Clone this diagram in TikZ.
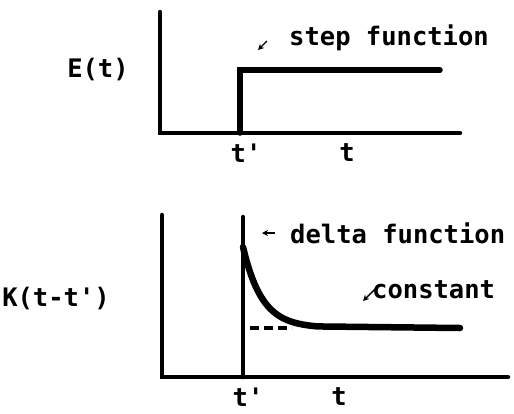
\documentclass[tikz,border=0pt]{standalone}
\usepackage{fontspec}
\setmonofont{DejaVu Sans Mono}
\usetikzlibrary{arrows.meta}
\tikzset{
  axis/.style={line width=4.5pt, line cap=round},
  graph/.style={line width=5.5pt, line cap=round, line join=miter},
  lbl/.style={font=\fontsize{25.5}{25.5}\selectfont\ttfamily\bfseries, inner sep=0pt},
  pointer/.style={line width=1.4pt, -{Stealth[length=6pt,width=6pt]}},
}
\begin{document}
\begin{tikzpicture}[x=1pt,y=-1pt]
\useasboundingbox (0,0) rectangle (514,413);
% top panel
\coordinate (a1top) at (160,12);
\coordinate (a1org) at (160,133);
\coordinate (a1end) at (460,133);
\coordinate (s0) at (240,133);
\coordinate (s1) at (240,70);
\coordinate (s2) at (440,70);
\draw[axis] (a1top) -- (a1org) -- (a1end);
\draw[graph] (s0) -- (s1) -- (s2);
\node[lbl] (E) at (98,70) {E(t)};
\node[lbl] (tp1) at (246,153) {t'};
\node[lbl] (t1) at (347,153) {t};
\node[lbl, anchor=west] (stepf) at (289,38) {step function};
\coordinate (sa0) at (267,41);
\coordinate (sa1) at (258,50);
\draw[pointer] (sa0) -- (sa1);
% bottom panel
\coordinate (a2top) at (162,215);
\coordinate (a2org) at (162,377);
\coordinate (a2end) at (508,377);
\coordinate (d0) at (243,377);
\coordinate (d1) at (243,217);
\draw[axis] (a2top) -- (a2org) -- (a2end);
\draw[axis] (d0) -- (d1);
\draw[line width=6.5pt, line cap=round] plot[domain=0:75, samples=60, smooth] ({243+\x},{328-81*exp(-\x/19)}) -- (460,328);
\coordinate (dash0) at (250,328);
\coordinate (dash1) at (292,328);
\draw[line width=4pt, dash pattern=on 9pt off 5pt] (dash0) -- (dash1);
\node[lbl] (K) at (56,298) {K(t-t')};
\node[lbl] (tp2) at (248,397) {t'};
\node[lbl] (t2) at (339,397) {t};
\node[lbl, anchor=west] (deltaf) at (290,233) {delta function};
\coordinate (da0) at (275,233);
\coordinate (da1) at (262,233);
\draw[pointer] (da0) -- (da1);
\node[lbl, anchor=west] (constf) at (372,290) {constant};
\coordinate (ca0) at (375,289);
\coordinate (ca1) at (363,301);
\draw[pointer] (ca0) -- (ca1);
\end{tikzpicture}
\end{document}
